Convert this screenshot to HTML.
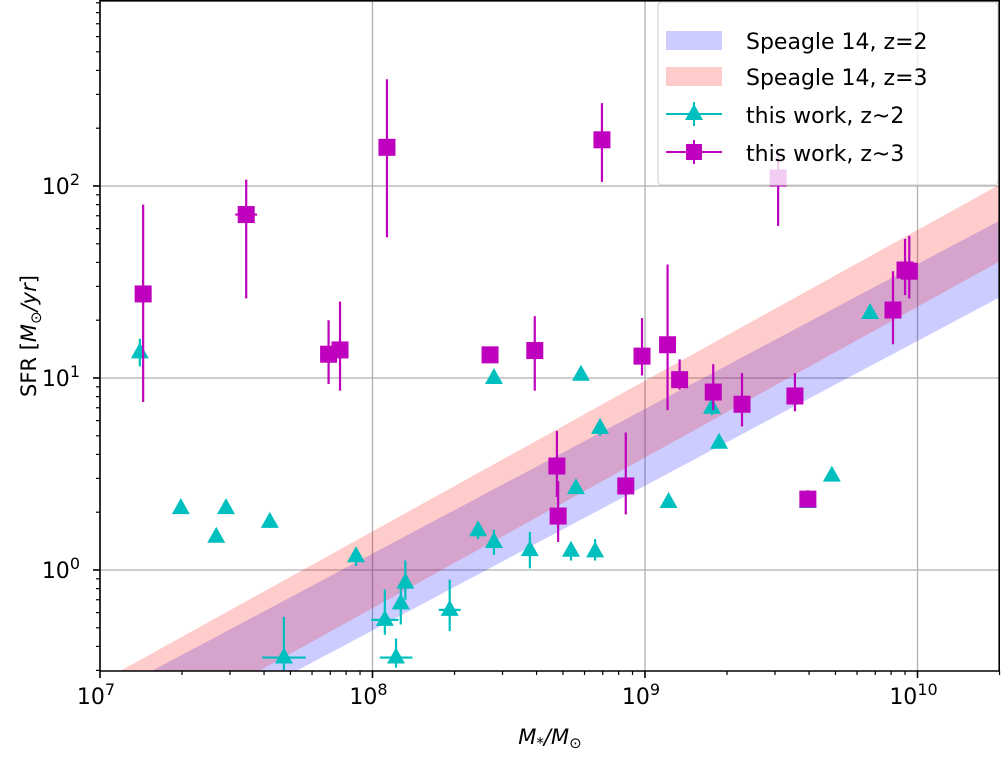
<!DOCTYPE html>
<html><head><meta charset="utf-8"><style>
html,body{margin:0;padding:0;background:#fff;overflow:hidden;width:1001px;height:757px}
svg{display:block;font-family:"DejaVu Sans","Liberation Sans",sans-serif}
</style></head><body>
<svg id="chart" width="1001" height="757">
<defs><clipPath id="clip"><rect x="100" y="0" width="900" height="671"/></clipPath></defs>
<g id="grid"></g>
<g id="bands" clip-path="url(#clip)"></g>
<g id="points" clip-path="url(#clip)"></g>
<g id="axes"></g>
<text x="0" y="0" transform="translate(36,336) rotate(-90)" text-anchor="middle" font-size="21">SFR [<tspan font-style="italic">M</tspan><tspan font-size="15" dy="5">⊙</tspan><tspan dy="-5" font-style="italic">/yr</tspan>]</text>
<text x="550" y="744" text-anchor="middle" font-size="21"><tspan font-style="italic">M</tspan><tspan font-size="15" dy="4">*</tspan><tspan dy="-4" font-style="italic">/M</tspan><tspan font-size="15" dy="4">⊙</tspan></text>
<g id="legend">
<rect x="658" y="2" width="340" height="183" rx="4" fill="#fff" fill-opacity="0.8" stroke="#ccc"/>
<g><rect x="666" y="31" width="56" height="19" fill="#ccccff"/><text x="746" y="49" font-size="22">Speagle 14, z=2</text></g>
<g><rect x="666" y="67" width="56" height="19" fill="#ffcccc"/><text x="746" y="85" font-size="22">Speagle 14, z=3</text></g>
<g><line x1="666" y1="114" x2="722" y2="114" stroke="#00bfbf" stroke-width="2"/><line x1="694" y1="102" x2="694" y2="126" stroke="#00bfbf" stroke-width="2"/><polygon points="694,104 703,120 685,120" fill="#00bfbf"/><text x="746" y="123" font-size="22">this work, z~2</text></g>
<g><line x1="666" y1="152" x2="722" y2="152" stroke="#bf00bf" stroke-width="2"/><line x1="694" y1="140" x2="694" y2="164" stroke="#bf00bf" stroke-width="2"/><rect x="686" y="144" width="16" height="16" fill="#bf00bf"/><text x="746" y="161" font-size="22">this work, z~3</text></g>
</g>
</svg>
<script>
// z~2 (triangles)
const triMass=[1.40e7,1.98e7,2.67e7,2.9e7,4.2e7,8.7e7,4.73e7,1.11e8,1.22e8,1.27e8,1.32e8,1.92e8,2.44e8,2.79e8,2.79e8,3.78e8,5.35e8,5.58e8,5.82e8,6.56e8,6.84e8,1.22e9,1.76e9,1.87e9,6.7e9,4.85e9,3.96e9];
const triSFR=[13.6,2.1,1.49,2.1,1.78,1.18,0.35,0.55,0.35,0.67,0.86,0.62,1.61,1.40,10,1.27,1.26,2.67,10.4,1.25,5.5,2.26,7.0,4.6,21.8,3.1,2.26];
const triLo=[11.5,2.1,1.49,2.1,1.78,1.05,0.28,0.46,0.31,0.52,0.7,0.48,1.45,1.2,10,1.02,1.12,2.67,10.4,1.12,5.0,2.26,6.4,4.3,21.8,3.1,2.2];
const triHi=[16,2.1,1.49,2.1,1.78,1.3,0.57,0.79,0.44,0.82,1.12,0.89,1.7,1.62,10,1.58,1.37,2.67,10.4,1.45,6.0,2.26,7.8,5.0,21.8,3.1,2.6];
const triXerr=[0,0,0,0,0,0,0.08,0.05,0.06,0,0,0.04,0,0,0,0,0,0,0,0,0,0,0,0,0,0,0];
// z~3 (squares)
const sqMass=[1.44e7,3.44e7,1.13e8,6.95e8,3.08e9,6.9e7,7.6e7,2.7e8,3.94e8,9.75e8,1.21e9,1.34e9,1.78e9,2.27e9,3.55e9,4.75e8,4.8e8,8.5e8,3.96e9,8.13e9,9.0e9,9.33e9];
const sqSFR=[27.4,71,159,174,110,13.3,14,13.2,13.9,13.0,14.9,9.8,8.45,7.3,8.06,3.48,1.91,2.74,2.34,22.6,36.5,36];
const sqLo=[7.5,26,54,105,62,9.3,8.6,12.5,8.6,10.3,6.8,8.7,6.8,5.6,6.7,2.4,1.4,1.95,2.2,15,27,26];
const sqHi=[80,108,360,270,150,20,25,14.5,21,20.5,39,12.5,11.8,10.6,10.6,5.3,2.9,5.2,2.6,36,53,55];
const sqXerr=[0.02,0.04,0.03,0,0.03,0,0,0,0,0,0,0,0,0,0,0,0,0,0,0,0,0];
// Speagle 14 model params [slope, intercept] for z=2, z=3, scatter 0.2 dex
const bandSlope=[0.754,0.785];
const bandIntercept=[-6.147,-6.279];
const xTicks=[7,8,9,10];
const yTicks=[0,1,2];

const NS='http://www.w3.org/2000/svg';
const X0=100,X1=1000,Y0=671,Y1=0;
const LX0=7,LX1=7+900/272.5;
const LYtop=(570-0)/192, LYbot=(570-Y0)/192;
const xs=lm=>X0+(lm-LX0)/(LX1-LX0)*(X1-X0);
const ys=ls=>570-ls*192;
const cy=py=>Math.min(Y0,Math.max(Y1,py));
const xm=m=>xs(Math.log10(m)), ym=v=>ys(Math.log10(v));
function mk(tag,attrs,parent){const e=document.createElementNS(NS,tag);for(const k in attrs)e.setAttribute(k,attrs[k]);parent.appendChild(e);return e;}
const grid=document.getElementById('grid'),axes=document.getElementById('axes'),bands=document.getElementById('bands'),pts=document.getElementById('points');
xTicks.forEach(t=>{const l=mk('line',{x1:xs(t),x2:xs(t),y1:Y1,y2:Y0,stroke:'#b0b0b0','stroke-width':1.3},grid);

});
yTicks.forEach(t=>{const l=mk('line',{x1:X0,x2:X1,y1:ys(t),y2:ys(t),stroke:'#b0b0b0','stroke-width':1.3},grid);

});
const bandColor=['rgba(0,0,255,0.2)','rgba(255,0,0,0.2)'];
bandSlope.forEach((s,i)=>{const b=bandIntercept[i];
// x where an edge crosses the bottom of the axes
const hit=off=>Math.max(LX0,(LYbot-b-off)/s);
const xu=hit(0.2), xl=hit(-0.2);
const pts2=[[xu,LYbot],[LX1,s*LX1+b+0.2],[LX1,s*LX1+b-0.2],[xl,LYbot]];
const p=pts2.map(q=>xs(q[0])+','+cy(ys(q[1]))).join(' ');
const poly=mk('polygon',{points:p,fill:bandColor[i]},bands);

});
triMass.forEach((m,i)=>{const g=mk('g',{},pts);


const x=xm(m),y=ym(triSFR[i]),c='#00bfbf';
mk('line',{x1:x,x2:x,y1:cy(ym(triLo[i])),y2:cy(ym(triHi[i])),stroke:c,'stroke-width':2.2},g);
if(triXerr[i])mk('line',{x1:xs(Math.log10(m)-triXerr[i]),x2:xs(Math.log10(m)+triXerr[i]),y1:y,y2:y,stroke:c,'stroke-width':2.2},g);
mk('polygon',{points:`${x},${y-10} ${x+9},${Math.min(Y0,y+6)} ${x-9},${Math.min(Y0,y+6)}`,fill:c},g);});
sqMass.forEach((m,i)=>{const g=mk('g',{},pts);


const x=xm(m),y=ym(sqSFR[i]),c='#bf00bf';
mk('line',{x1:x,x2:x,y1:cy(ym(sqLo[i])),y2:cy(ym(sqHi[i])),stroke:c,'stroke-width':2.2},g);
if(sqXerr[i])mk('line',{x1:xs(Math.log10(m)-sqXerr[i]),x2:xs(Math.log10(m)+sqXerr[i]),y1:y,y2:y,stroke:c,'stroke-width':2.2},g);
mk('rect',{x:x-8.5,y:y-8.5,width:17,height:17,fill:c},g);});
mk('line',{x1:X0,x2:X0,y1:0,y2:Y0,stroke:'#000','stroke-width':1.6},axes);
mk('line',{x1:X0,x2:X1,y1:Y0,y2:Y0,stroke:'#000','stroke-width':1.6},axes);
mk('line',{x1:X1-0.8,x2:X1-0.8,y1:0,y2:Y0,stroke:'#000','stroke-width':1.6},axes);
mk('line',{x1:X0,x2:X1,y1:0.8,y2:0.8,stroke:'#000','stroke-width':1.6},axes);
for(let d=7;d<=10;d++)for(let k=1;k<10;k++){const lm=d+Math.log10(k);if(lm>LX1)break;const x=xs(lm);
mk('line',{x1:x,x2:x,y1:Y0,y2:Y0+(k==1?7:4),stroke:'#000','stroke-width':k==1?1.6:1.2},axes);}
for(let d=-1;d<=2;d++)for(let k=1;k<10;k++){const ls=d+Math.log10(k);if(ls<LYbot||ls>LYtop)continue;const y=ys(ls);
mk('line',{x1:X0,x2:X0-(k==1?7:4),y1:y,y2:y,stroke:'#000','stroke-width':k==1?1.6:1.2},axes);}
xTicks.forEach(t=>{const tx=mk('text',{x:xs(t)-4,y:704,'text-anchor':'middle','font-size':22},axes);


tx.innerHTML='10<tspan font-size="16" dy="-9">'+t+'</tspan>';});
yTicks.forEach(t=>{const tx=mk('text',{x:80,y:ys(t)+8,'text-anchor':'end','font-size':22},axes);


tx.innerHTML='10<tspan font-size="16" dy="-9">'+t+'</tspan>';});
</script>
</body></html>
